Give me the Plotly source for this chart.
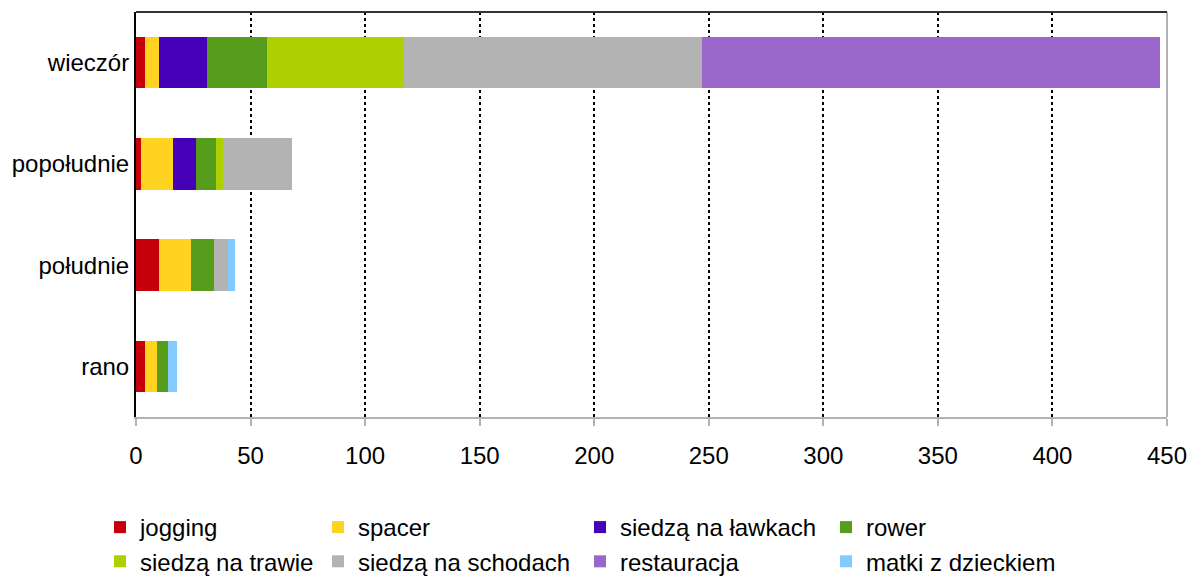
import plotly.graph_objects as go

categories = ["rano", "południe", "popołudnie", "wieczór"]
series_names = ["jogging", "spacer", "siedzą na ławkach", "rower",
                "siedzą na trawie", "siedzą na schodach", "restauracja", "matki z dzieckiem"]
jogging = [4, 10, 2, 4]
spacer = [5, 14, 14, 6]
siedza_lawkach = [0, 0, 10, 21]
rower = [5, 10, 9, 26]
siedza_trawie = [0, 0, 3, 60]
siedza_schodach = [0, 6, 30, 130]
restauracja = [0, 0, 0, 200]
matki = [4, 3, 0, 0]
values = [jogging, spacer, siedza_lawkach, rower, siedza_trawie, siedza_schodach, restauracja, matki]
colors = ["#C5000B", "#FFD320", "#4600B8", "#579D1C", "#AECF00", "#B3B3B3", "#9966CC", "#83CAFF"]
x_ticks = [0, 50, 100, 150, 200, 250, 300, 350, 400, 450]

# legend column assignment (4 columns, 2 rows)
legend_ids = ["legend", "legend2", "legend3", "legend4"] * 2

fig = go.Figure()
for name, vals, c, lg in zip(series_names, values, colors, legend_ids):
    fig.add_trace(go.Bar(y=categories, x=vals, name=name, orientation="h",
                         marker=dict(color=c, line=dict(width=0)), width=0.51,
                         legend=lg))

font = "Liberation Sans, Arial, sans-serif"
legend_x_px = [100, 318, 580, 826]
leg_common = dict(orientation="v", xref="container", yref="container",
                  xanchor="left", yanchor="top", y=1 - 505 / 579,
                  itemwidth=30, font=dict(size=24, family=font, color="#000000"),
                  bgcolor="rgba(0,0,0,0)", itemclick=False, tracegroupgap=0,
                  traceorder="normal")

fig.update_layout(
    barmode="stack",
    width=1193, height=579,
    margin=dict(l=136, r=26, t=12, b=162, autoexpand=False),
    paper_bgcolor="white", plot_bgcolor="white",
    font=dict(family=font, size=24, color="#000000"),
    xaxis=dict(range=[0, 450], tickvals=x_ticks, showgrid=True,
               gridcolor="#000000", gridwidth=2, griddash="3px,3px",
               showline=True, linecolor="#B3B3B3", linewidth=2,
               ticks="outside", ticklen=7, tickcolor="#B3B3B3", tickwidth=2,
               zeroline=False, fixedrange=True, automargin=False,
               ticklabelstandoff=9),
    yaxis=dict(showline=True, linecolor="#000000", linewidth=2,
               showgrid=False, ticks="", zeroline=False, range=[-0.5, 3.5],
               automargin=False, fixedrange=True),
    legend=dict(x=legend_x_px[0] / 1193, **leg_common),
    legend2=dict(x=legend_x_px[1] / 1193, **leg_common),
    legend3=dict(x=legend_x_px[2] / 1193, **leg_common),
    legend4=dict(x=legend_x_px[3] / 1193, **leg_common),
    showlegend=True,
)
fig.add_shape(type="line", xref="paper", yref="paper", x0=0, x1=1, y0=1, y1=1,
              line=dict(color="#333333", width=2))
fig.add_shape(type="line", xref="paper", yref="paper", x0=1, x1=1, y0=0, y1=1,
              line=dict(color="#B3B3B3", width=2), layer="below")
fig.write_html("out.html", config={"displayModeBar": False},
               post_script="document.body.style.margin='0';document.body.style.overflow='hidden';")
